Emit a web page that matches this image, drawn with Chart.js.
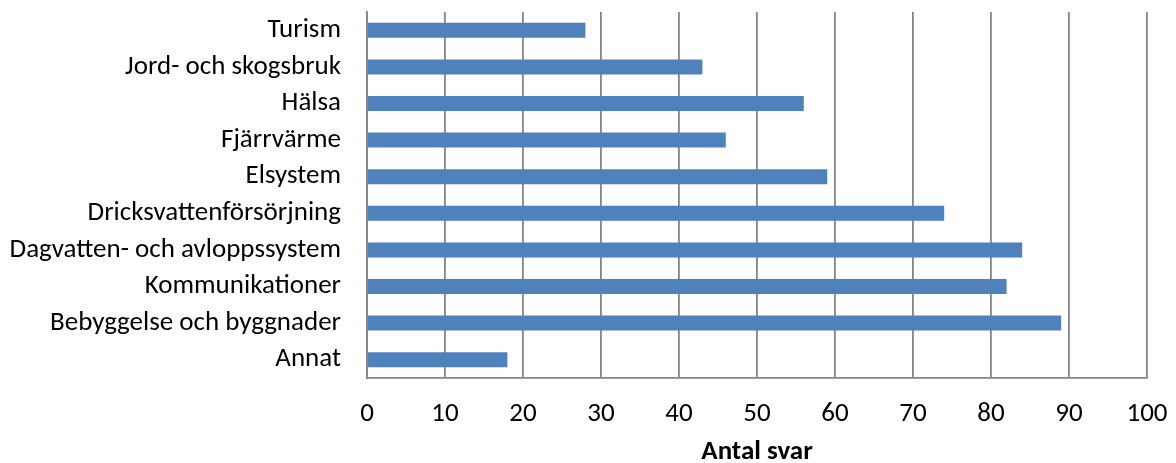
<!DOCTYPE html>
<html lang="sv">
<head>
<meta charset="UTF-8">
<script src="https://cdn.jsdelivr.net/npm/chart.js"></script>
<title>Antal svar</title>
<style>
  html, body { margin: 0; padding: 0; background: #fff; overflow: hidden; }
</style>
</head>
<body>
<canvas id="myChart" width="1176" height="463"></canvas>
<script>
    const kategorier = ['Turism', 'Jord- och skogsbruk', 'Hälsa', 'Fjärrvärme', 'Elsystem',
        'Dricksvattenförsörjning', 'Dagvatten- och avloppssystem', 'Kommunikationer',
        'Bebyggelse och byggnader', 'Annat'];
    const antalSvar = [28, 43, 56, 46, 59, 74, 84, 82, 89, 18];
    const xTicks = [0, 10, 20, 30, 40, 50, 60, 70, 80, 90, 100];

    const fontFamily = "Carlito, Calibri, 'Open Sans', sans-serif";

    const ctx = document.getElementById('myChart');
    new Chart(ctx, {
        type: 'bar',
        data: {
            labels: kategorier,
            datasets: [{
                label: 'Antal svar',
                data: antalSvar,
                backgroundColor: '#4F81BD',
                borderWidth: 0,
                barPercentage: 0.41,
                categoryPercentage: 1
            }]
        },
        options: {
            indexAxis: 'y',
            responsive: false,
            animation: false,
            layout: { padding: { top: 12, right: 29, left: 0, bottom: 0 } },
            plugins: {
                legend: { display: false },
                tooltip: { enabled: false }
            },
            scales: {
                x: {
                    min: 0,
                    max: 100,
                    afterBuildTicks: (scale) => { scale.ticks = xTicks.map(v => ({ value: v })); },
                    grid: { color: '#858585', lineWidth: 1.8, drawTicks: false },
                    border: { color: '#858585', width: 1.8 },
                    ticks: { color: '#000', padding: 20, font: { family: fontFamily, size: 27 } },
                    title: {
                        display: true,
                        text: 'Antal svar',
                        color: '#000',
                        padding: { top: 4, bottom: -5 },
                        font: { family: fontFamily, size: 27, weight: 'bold' }
                    },
                    afterFit: (scale) => { scale.height = 85; scale.paddingLeft = 0; scale.paddingRight = 0; }
                },
                y: {
                    grid: { display: false, drawTicks: false },
                    border: { color: '#858585', width: 1.8 },
                    ticks: { color: '#000', padding: 26, font: { family: fontFamily, size: 27 } },
                    afterFit: (scale) => { scale.width = 367; scale.paddingTop = 0; scale.paddingBottom = 0; }
                }
            }
        }
    });
</script>
</body>
</html>
